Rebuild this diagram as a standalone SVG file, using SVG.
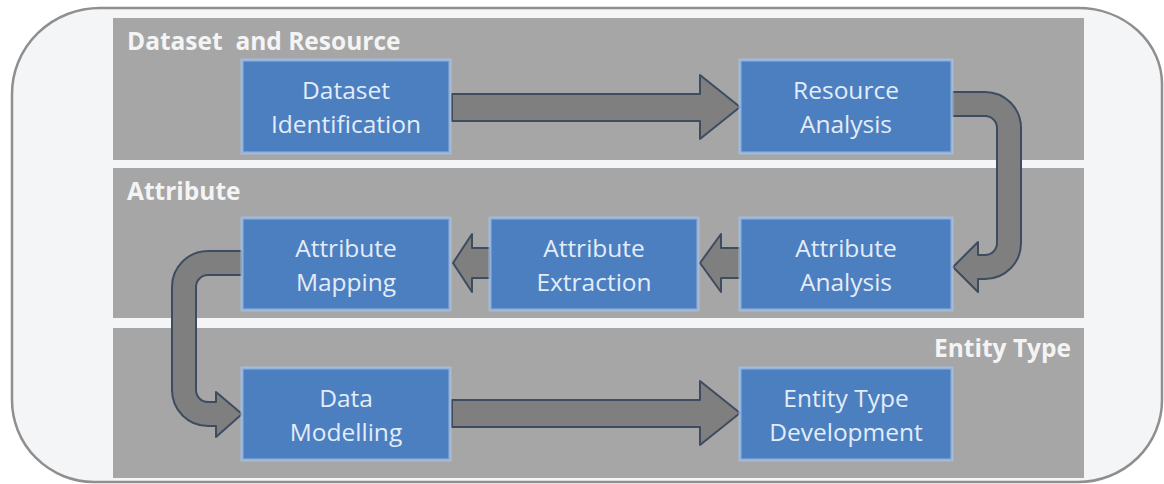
<svg xmlns="http://www.w3.org/2000/svg" width="1164" height="484" viewBox="0 0 1164 484">
<style>
.band{fill:#a6a6a6;}
.blabel{font-family:"Open Sans","Liberation Sans",sans-serif;font-weight:bold;font-size:24.5px;fill:#f4f4f4;}
.box{fill:#4b7fc0;stroke:#a8c3e6;stroke-width:3;stroke-opacity:0.75;}
.btext{font-family:"Open Sans","Liberation Sans",sans-serif;font-size:24.5px;fill:#e3ecf8;text-anchor:middle;}
.arrow{fill:#7f7f7f;stroke:#3e4c60;stroke-width:2;stroke-linejoin:round;}
</style>
<g id="frame">
<path d="M100 8 H1078 A84 76 0 0 1 1162 84 V400 A84 82 0 0 1 1078 482 H94 A82 82 0 0 1 12 400 V94 A88 86 0 0 1 100 8 Z" fill="#f4f5f7" stroke="#8f8f8f" stroke-width="2.5"/>
</g>
<g id="band-dataset">
<rect class="band" x="113" y="18" width="971" height="142"/>
<text class="blabel" x="127" y="50" xml:space="preserve">Dataset  and Resource</text>
</g>
<g id="band-attribute">
<rect class="band" x="113" y="168" width="971" height="150"/>
<text class="blabel" x="127" y="200">Attribute</text>
</g>
<g id="band-entity">
<rect class="band" x="113" y="328" width="971" height="150"/>
<text class="blabel" x="1071" y="357" text-anchor="end">Entity Type</text>
</g>
<g id="connectors">
<path class="arrow" d="M452 94 H700 V75 L740 107 L700 139 V121 H452 Z"/>
<path class="arrow" d="M952 92 H985 A36 36 0 0 1 1021 128 V243 A36 36 0 0 1 985 279 H978 V292 L953 267 L978 242 V255 H985 A12 12 0 0 0 997 243 V128 A12 12 0 0 0 985 116 H952 Z"/>
<path class="arrow" d="M740 248 H721 V234 L700 263 L721 292 V278 H740 Z"/>
<path class="arrow" d="M490 248 H472 V234 L453 263 L472 292 V278 H490 Z"/>
<path class="arrow" d="M242 251 H208 A36 36 0 0 0 172 287 V390 A36 36 0 0 0 208 426 H216 V437 L242 414 L216 392 V402 H208 A12 12 0 0 1 196 390 V287 A12 12 0 0 1 208 275 H242 Z"/>
<path class="arrow" d="M452 400 H700 V381 L740 413 L700 445 V427 H452 Z"/>
</g>
<g id="dataset-identification">
<rect class="box" x="242" y="60" width="208" height="93"/>
<text class="btext" x="346" y="99">Dataset</text>
<text class="btext" x="346" y="133">Identification</text>
</g>
<g id="resource-analysis">
<rect class="box" x="740" y="60" width="212" height="93"/>
<text class="btext" x="846" y="99">Resource</text>
<text class="btext" x="846" y="133">Analysis</text>
</g>
<g id="attribute-analysis">
<rect class="box" x="740" y="218" width="212" height="92"/>
<text class="btext" x="846" y="257">Attribute</text>
<text class="btext" x="846" y="291">Analysis</text>
</g>
<g id="attribute-extraction">
<rect class="box" x="490" y="218" width="208" height="92"/>
<text class="btext" x="594" y="257">Attribute</text>
<text class="btext" x="594" y="291">Extraction</text>
</g>
<g id="attribute-mapping">
<rect class="box" x="242" y="218" width="208" height="92"/>
<text class="btext" x="346" y="257">Attribute</text>
<text class="btext" x="346" y="291">Mapping</text>
</g>
<g id="data-modelling">
<rect class="box" x="242" y="368" width="208" height="92"/>
<text class="btext" x="346" y="407">Data</text>
<text class="btext" x="346" y="441">Modelling</text>
</g>
<g id="entity-type-development">
<rect class="box" x="740" y="368" width="212" height="92"/>
<text class="btext" x="846" y="407">Entity Type</text>
<text class="btext" x="846" y="441">Development</text>
</g>
</svg>
